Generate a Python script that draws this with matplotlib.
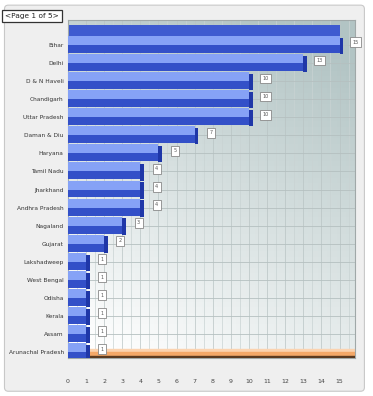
import numpy as np
import matplotlib
matplotlib.use("Agg")
import matplotlib.pyplot as plt
from matplotlib.patches import FancyBboxPatch

states = ["Bihar", "Delhi", "D & N Haveli", "Chandigarh", "Uttar Pradesh",
          "Daman & Diu", "Haryana", "Tamil Nadu", "Jharkhand", "Andhra Pradesh",
          "Nagaland", "Gujarat", "Lakshadweep", "West Bengal", "Odisha",
          "Kerala", "Assam", "Arunachal Pradesh"]
counts = [15, 13, 10, 10, 10, 7, 5, 4, 4, 4, 3, 2, 1, 1, 1, 1, 1, 1]
xticks = list(range(0, 16))

fig = plt.figure(figsize=(3.73, 3.96), dpi=100)
fig.patch.set_facecolor("white")

# grey outer panel
fig.patches.append(FancyBboxPatch((0.012, 0.012), 0.965, 0.975,
                                  boxstyle="round,pad=0,rounding_size=0.01",
                                  transform=fig.transFigure, facecolor="#efefef",
                                  edgecolor="#c8c8c8", lw=0.8, zorder=-10))

ax = fig.add_axes([0.182, 0.096, 0.770, 0.853])
y = np.arange(len(states))
ax.set_xlim(0, 15.86)
ax.set_ylim(17.33, -1.38)

# background gradient: grey-blue at top right fading to white at bottom
gx, gy = np.meshgrid(np.linspace(0, 1, 60), np.linspace(0, 1, 60))
g = np.clip(0.8 * gy + 0.35 * (1 - gx) - 0.1, 0, 1)
top = np.array([0.70, 0.77, 0.77])
bot = np.array([1.0, 1.0, 1.0])
img = top[None, None, :] * (1 - g[..., None]) + bot[None, None, :] * g[..., None]
ax.imshow(img, extent=[0, 15.86, 17.33, -1.38], aspect="auto", zorder=0)

# grid
for v in np.arange(0, 16, 0.5):
    ax.axvline(v, color="#c9d3d3" if v % 1 else "#b9c4c4", lw=0.5, zorder=1)
for r in np.arange(-0.5, len(states), 1):
    ax.axhline(r + 0.5, color="#b5c0c0", lw=0.6, zorder=1)

# floor
ax.axhspan(16.85, 17.2, color="#fbd3b0", zorder=2)
ax.axhspan(17.0, 17.2, color="#f4a868", zorder=2)
ax.axhspan(17.2, 17.33, color="#5a3a20", zorder=3)

# top face of the first bar
ax.barh(-0.82, counts[0], height=0.6, left=0.05, color="#3e5bd0", zorder=4)

light = "#86a2f6"
dark = "#3350c8"
for yi, c in zip(y, counts):
    ax.barh(yi - 0.25, c, height=0.5, color=light, zorder=4)
    ax.barh(yi + 0.22, c, height=0.44, color=dark, zorder=4)
    ax.barh(yi + 0.05, 0.2, height=0.9, left=c, color="#1f37a8", zorder=5)
    ax.text(c + 0.9, yi - 0.15, str(c), fontsize=3.5, ha="center", va="center",
            color="#555555", zorder=6,
            bbox=dict(boxstyle="square,pad=0.5", fc="white", ec="#888888", lw=0.6))

ax.set_yticks(y)
ax.set_yticklabels(states, fontsize=4.2, color="#333333")
ax.set_xticks(xticks)
ax.set_xticklabels([str(t) for t in xticks], fontsize=4.5, color="#444444")
ax.tick_params(axis="both", length=0, pad=3)
ax.tick_params(axis="x", pad=15)
for s in ax.spines.values():
    s.set_color("#a0a8a8")
    s.set_linewidth(0.8)

# page navigation button
fig.text(0.085, 0.96, "<Page 1 of 5>", fontsize=5.3, ha="center", va="center",
         color="#222222",
         bbox=dict(boxstyle="square,pad=0.45", fc="white", ec="#333333", lw=0.9))

fig.savefig("out.png", dpi=100)
